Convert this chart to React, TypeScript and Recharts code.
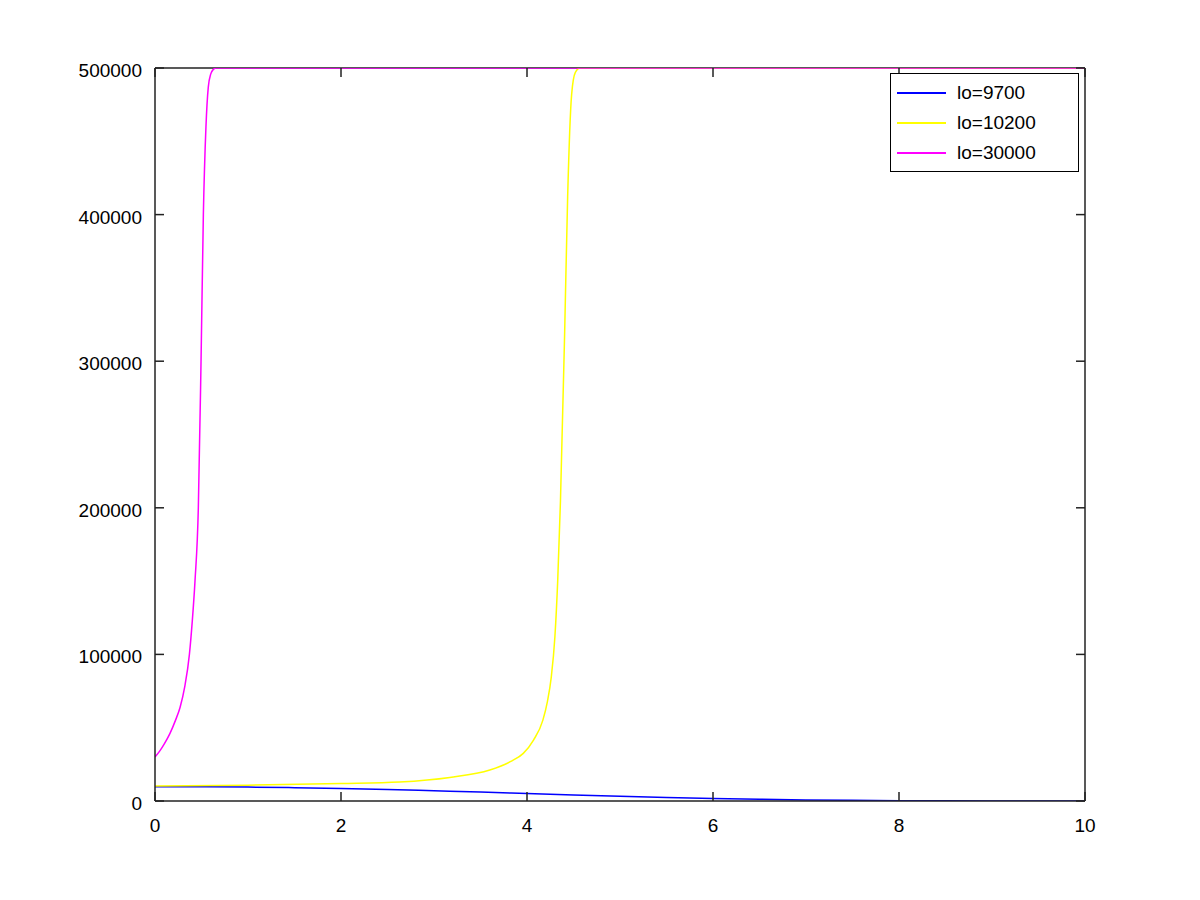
import React from 'react'
import { LineChart, Line, XAxis, YAxis, Legend, ReferenceLine } from 'recharts'

// values
const blueT = [0, 0.5, 1, 1.5, 2, 2.5, 3, 3.5, 4, 4.5, 5, 5.5, 6, 6.5, 7, 7.5, 8, 8.5, 9, 9.5, 10]
const blueV = [9700, 9650, 9500, 9100, 8600, 7900, 7000, 6100, 5100, 4100, 3200, 2400, 1700, 1150, 750, 450, 250, 130, 60, 30, 10]

const yellowT = [0, 1, 2, 2.63, 3.17, 3.6, 3.82, 3.96, 4.07, 4.17, 4.22, 4.26, 4.3, 4.33, 4.36, 4.405, 4.437, 4.48, 4.52, 4.57, 4.65, 5, 6, 7, 8, 9, 10]
const yellowV = [10200, 10800, 11900, 13000, 16100, 21100, 26800, 32500, 41600, 55000, 68000, 84000, 112000, 150000, 205000, 320000, 412000, 482000, 497000, 500000, 500000, 500000, 500000, 500000, 500000, 500000, 500000]

const magentaT = [0, 0.05, 0.1, 0.16, 0.22, 0.27, 0.32, 0.37, 0.4, 0.43, 0.466, 0.495, 0.52, 0.548, 0.573, 0.6, 0.627, 0.66, 0.7, 1, 2, 4, 6, 8, 10]
const magentaV = [30000, 34000, 39000, 46000, 55000, 64000, 78000, 100000, 122000, 150000, 200000, 300000, 400000, 460000, 487000, 496000, 499000, 500000, 500000, 500000, 500000, 500000, 500000, 500000, 500000]

const seriesNames = ['lo=9700', 'lo=10200', 'lo=30000']
const seriesColors = ['#0000ff', '#ffff00', '#ff00ff']

const xTicks = [0, 2, 4, 6, 8, 10]
const yTicks = [0, 100000, 200000, 300000, 400000, 500000]

const toPoints = (ts: number[], vs: number[]) => ts.map((t, i) => ({ t, v: vs[i] }))

const FONT = '"Liberation Sans", Arial, sans-serif'
const AXIS = '#222'
const TICK_LEN = 9
// plot box 155..1085 x 68..801
const PLOT_W = 930
const PLOT_H = 733

function BottomTick(props: any) {
  const { x, y, payload } = props
  return (
    <g>
      <line x1={x} y1={y} x2={x} y2={y - TICK_LEN} stroke={AXIS} strokeWidth={1.5} />
      <line x1={x} y1={y - PLOT_H} x2={x} y2={y - PLOT_H + TICK_LEN} stroke={AXIS} strokeWidth={1.5} />
      <text x={x} y={y + 31} textAnchor="middle" fontFamily={FONT} fontSize={19} fill="#000">
        {payload.value}
      </text>
    </g>
  )
}

function LeftTick(props: any) {
  const { x, y, payload } = props
  return (
    <g>
      <line x1={x} y1={y} x2={x + TICK_LEN} y2={y} stroke={AXIS} strokeWidth={1.5} />
      <line x1={x + PLOT_W} y1={y} x2={x + PLOT_W - TICK_LEN} y2={y} stroke={AXIS} strokeWidth={1.5} />
      <text x={x - 13} y={y + 9} textAnchor="end" fontFamily={FONT} fontSize={19} fill="#000">
        {payload.value}
      </text>
    </g>
  )
}

function LegendBox() {
  return (
    <div
      style={{
        border: '1px solid #000',
        background: '#fff',
        width: 189,
        height: 99,
        paddingTop: 4,
        boxSizing: 'border-box',
        fontFamily: FONT,
        fontSize: 19,
      }}
    >
      {seriesNames.map((name, i) => (
        <div key={name} style={{ display: 'flex', alignItems: 'center', height: 30 }}>
          <div style={{ width: 49, height: 2, background: seriesColors[i], marginLeft: 6, marginRight: 11 }} />
          <span style={{ color: '#000' }}>{name}</span>
        </div>
      ))}
    </div>
  )
}

export default function App() {
  return (
    <div style={{ position: 'absolute', left: 0, top: 0, width: 1200, height: 900, background: '#fff' }}>
      <LineChart width={1200} height={900} margin={{ top: 68, right: 115, bottom: 59, left: 55 }}>
        <XAxis
          type="number"
          dataKey="t"
          domain={[0, 10]}
          ticks={xTicks}
          interval={0}
          height={40}
          tickSize={0}
          tickMargin={0}
          tickLine={false}
          axisLine={{ stroke: AXIS, strokeWidth: 1.5 }}
          tick={<BottomTick />}
          allowDataOverflow
        />
        <YAxis
          type="number"
          domain={[0, 500000]}
          ticks={yTicks}
          interval={0}
          width={100}
          tickSize={0}
          tickMargin={0}
          tickLine={false}
          axisLine={{ stroke: AXIS, strokeWidth: 1.5 }}
          tick={<LeftTick />}
          allowDataOverflow
        />
        <ReferenceLine y={500000} stroke={AXIS} strokeWidth={1.5} />
        <ReferenceLine x={10} stroke={AXIS} strokeWidth={1.5} />
        <Legend
          layout="horizontal"
          verticalAlign="middle"
          align="center"
          content={<LegendBox />}
          wrapperStyle={{ position: 'absolute', top: 73, left: 890, width: 189 }}
        />
        <Line
          data={toPoints(blueT, blueV)}
          dataKey="v"
          name={seriesNames[0]}
          type="monotone"
          stroke={seriesColors[0]}
          strokeWidth={1.5}
          dot={false}
          isAnimationActive={false}
        />
        <Line
          data={toPoints(yellowT, yellowV)}
          dataKey="v"
          name={seriesNames[1]}
          type="monotone"
          stroke={seriesColors[1]}
          strokeWidth={1.5}
          dot={false}
          isAnimationActive={false}
        />
        <Line
          data={toPoints(magentaT, magentaV)}
          dataKey="v"
          name={seriesNames[2]}
          type="monotone"
          stroke={seriesColors[2]}
          strokeWidth={1.5}
          dot={false}
          isAnimationActive={false}
        />
      </LineChart>
    </div>
  )
}
